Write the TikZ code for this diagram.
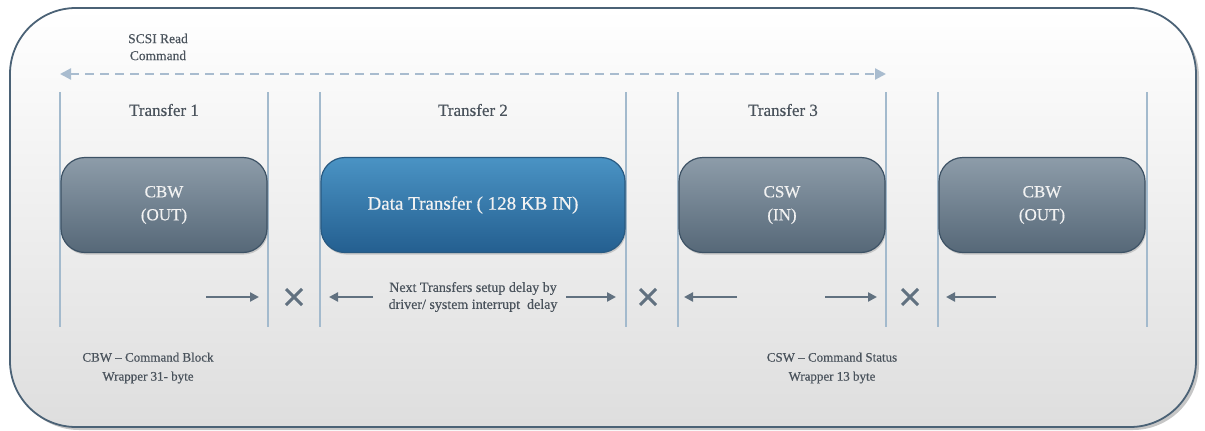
\documentclass[tikz,border=0pt]{standalone}
\usepackage{fontspec}
\newfontfamily\semibold{Liberation Serif}[FakeBold=0.45, Ligatures=TeX]
\setmainfont{Liberation Serif}
\usetikzlibrary{arrows.meta,shadows,shapes.misc}
\definecolor{frame}{HTML}{4B6276}
\definecolor{guide}{HTML}{A3BACD}
\definecolor{dashc}{HTML}{A9BCCF}
\definecolor{ink}{HTML}{4A535C}
\definecolor{arrowc}{HTML}{617180}
\definecolor{greytop}{HTML}{8D9CA9}
\definecolor{greybot}{HTML}{566878}
\definecolor{greyedge}{HTML}{3D5265}
\definecolor{bluetop}{HTML}{4A93C4}
\definecolor{bluebot}{HTML}{245F90}
\definecolor{blueedge}{HTML}{285A82}
\tikzset{
  label/.style={font=\semibold\fontsize{13}{19}\selectfont, text=ink, align=center, inner sep=1pt},
  head/.style={font=\semibold\fontsize{17}{19}\selectfont, text=ink, inner sep=1pt},
  greybox/.style={rounded corners=24pt, minimum width=206pt, minimum height=95pt,
    top color=greytop, bottom color=greybot, draw=greyedge, line width=1.2pt,
    text=white!95!black, font=\semibold\fontsize{17}{23}\selectfont, align=center,
    drop shadow={shadow xshift=1pt, shadow yshift=-2pt, opacity=0.35}},
  bluebox/.style={greybox, minimum width=304pt, top color=bluetop, bottom color=bluebot,
    draw=blueedge, font=\semibold\fontsize{19}{23}\selectfont},
  guideline/.style={draw=guide, line width=1.3pt},
  delay/.style={draw=arrowc, line width=2.4pt, -{Triangle[length=9pt,width=9pt]}},
  stop/.style={cross out, draw=arrowc, line width=3pt, minimum size=13pt, inner sep=0pt},
}
\begin{document}
\begin{tikzpicture}[x=1pt, y=-1pt]
\useasboundingbox (0,0) rectangle (1205,431);
% outer frame
\path[top color=white, bottom color=black!13, draw=frame, line width=1.8pt, rounded corners=66pt,
  drop shadow={shadow xshift=3pt, shadow yshift=-3pt, opacity=0.45}]
  (10,8) rectangle (1196,427);

% command span
\coordinate (cmdL) at (60,74);
\coordinate (cmdR) at (886,74);
\draw[draw=dashc, line width=2.2pt, dash pattern=on 9pt off 6pt,
  {Triangle[length=11pt,width=11pt]}-{Triangle[length=11pt,width=11pt]}] (cmdL) -- (cmdR);
\node[label, font=\semibold\fontsize{13.5}{17}\selectfont] (scsi) at (158,47) {SCSI Read\\Command};

% phase boundaries
\foreach \n/\x in {a/60, b/268, c/320, d/626, e/678, f/886, g/938, h/1147}{
  \coordinate (\n top) at (\x,92);
  \coordinate (\n bot) at (\x,327);
  \draw[guideline] (\n top) -- (\n bot);
}

% headings
\node[head] (t1) at (164,110) {Transfer 1};
\node[head] (t2) at (473,110) {Transfer 2};
\node[head] (t3) at (783,110) {Transfer 3};

% transfers
\node[greybox] (cbw) at (164,205) {CBW\\(OUT)};
\node[bluebox] (data) at (473,205) {Data Transfer ( 128 KB IN)};
\node[greybox] (csw) at (782,205) {CSW\\(IN)};
\node[greybox] (cbw2) at (1042,205) {CBW\\(OUT)};

% gaps between transfers
\node[stop] (x1) at (294,297) {};
\node[stop] (x2) at (648,297) {};
\node[stop] (x3) at (910,297) {};

\node[label, font=\semibold\fontsize{14}{17}\selectfont] (note) at (473,297)
  {Next Transfers setup delay by\\driver/ system interrupt\ \ delay};

\coordinate (a1s) at (206,297); \coordinate (a1e) at (259,297);
\coordinate (a2s) at (373,297); \coordinate (a2e) at (329,297);
\coordinate (a3s) at (566,297); \coordinate (a3e) at (616,297);
\coordinate (a4s) at (737,297); \coordinate (a4e) at (684,297);
\coordinate (a5s) at (825,297); \coordinate (a5e) at (877,297);
\coordinate (a6s) at (996,297); \coordinate (a6e) at (946,297);
\foreach \i in {1,...,6}{ \draw[delay] (a\i s) -- (a\i e); }

% footnotes
\node[label] (cbwnote) at (148,368) {CBW – Command Block\\Wrapper 31- byte};
\node[label] (cswnote) at (832,368) {CSW – Command Status\\Wrapper 13 byte};
\end{tikzpicture}
\end{document}
